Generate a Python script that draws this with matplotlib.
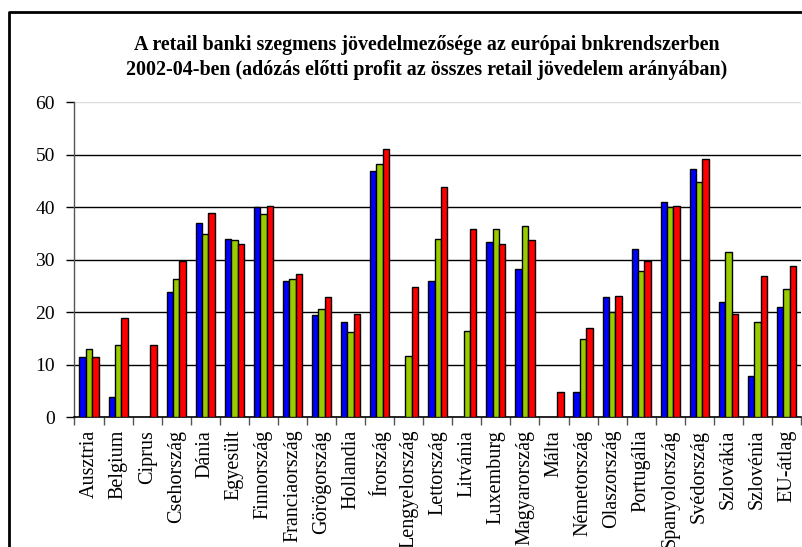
import matplotlib
matplotlib.use("Agg")
import matplotlib.pyplot as plt
import numpy as np
from matplotlib.lines import Line2D

categories = ["Ausztria", "Belgium", "Ciprus", "Csehország", "Dánia", "Egyesült",
              "Finnország", "Franciaország", "Görögország", "Hollandia", "Írország",
              "Lengyelország", "Lettország", "Litvánia", "Luxemburg", "Magyarország",
              "Málta", "Németország", "Olaszország", "Portugália", "Spanyolország",
              "Svédország", "Szlovákia", "Szlovénia", "EU-átlag"]

blue = [11.4, 3.8, np.nan, 23.8, 37.1, 34.0, 40.0, 26.0, 19.4, 18.1, 47.0,
        np.nan, 26.0, np.nan, 33.3, 28.3, np.nan, 4.8, 22.9, 32.1, 41.0,
        47.3, 21.9, 7.9, 21.0]
green = [13.0, 13.7, np.nan, 26.3, 34.9, 33.7, 38.7, 26.3, 20.6, 16.2, 48.3,
         11.7, 34.0, 16.5, 35.9, 36.5, np.nan, 14.9, 20.0, 27.9, 40.0,
         44.8, 31.4, 18.1, 24.4]
red = [11.4, 19.0, 13.7, 29.8, 39.0, 33.0, 40.3, 27.3, 22.9, 19.7, 51.1,
       24.8, 43.8, 35.9, 33.0, 33.7, 4.8, 17.1, 23.2, 29.8, 40.3,
       49.2, 19.7, 27.0, 28.9]

yticks = [0, 10, 20, 30, 40, 50, 60]
title = ("A retail banki szegmens jövedelmezősége az európai bnkrendszerben\n"
         "2002-04-ben (adózás előtti profit az összes retail jövedelem arányában)")

W, H = 803, 547
fig = plt.figure(figsize=(W / 100, H / 100), dpi=100)
serif = ["Liberation Serif", "DejaVu Serif"]

# outer chart frame (left and top visible)
fig.add_artist(Line2D([8.5 / W, 8.5 / W, 1.0], [0.0, 1 - 12 / H, 1 - 12 / H],
                      transform=fig.transFigure, color="black", lw=2.0))

left, right = 74.5 / W, 801 / W
bottom, top = 1 - 417.3 / H, 1 - 102.3 / H
ax = fig.add_axes([left, bottom, right - left, top - bottom])

n = len(categories)
x = np.arange(n)
bw = 0.22
colors = ["#0000FF", "#99CC00", "#FF0000"]
for i, (vals, c) in enumerate(zip([blue, green, red], colors)):
    ax.bar(x + (i - 1) * bw, vals, width=bw, color=c, edgecolor="black",
           linewidth=1.0, zorder=3)

ax.set_xlim(-0.5, n - 0.5)
ax.set_ylim(0, 60)
ax.set_yticks(yticks)
ax.set_yticklabels([str(t) for t in yticks], fontfamily=serif, fontsize=14)
for t in yticks[1:-1]:
    ax.axhline(t, color="black", lw=1.0, zorder=1)
ax.axhline(60, color="#dddddd", lw=1.0, zorder=1)

ax.set_xticks(x)
ax.set_xticklabels(categories, rotation=90, fontfamily=serif, fontsize=14.5,
                   va="top", ha="center")
ax.tick_params(axis="x", length=0, pad=9)
# boundary tick marks
ax.set_xticks(np.arange(n + 1) - 0.5, minor=True)
ax.tick_params(axis="x", which="minor", length=6, width=1.0, color="#555555",
               direction="out")
ax.tick_params(axis="y", length=6, width=1.0, color="black", direction="out", pad=8)

for s in ["top", "right"]:
    ax.spines[s].set_visible(False)
ax.spines["left"].set_color("#555555")
ax.spines["bottom"].set_color("black")
ax.spines["left"].set_linewidth(1.0)
ax.spines["bottom"].set_linewidth(1.2)

fig.text((133 + 720) / 2 / W, 1 - 35 / H, title, ha="center", va="top",
         fontfamily=serif, fontweight="bold", fontsize=14.4, linespacing=1.32)

fig.savefig("out.png", dpi=100)
